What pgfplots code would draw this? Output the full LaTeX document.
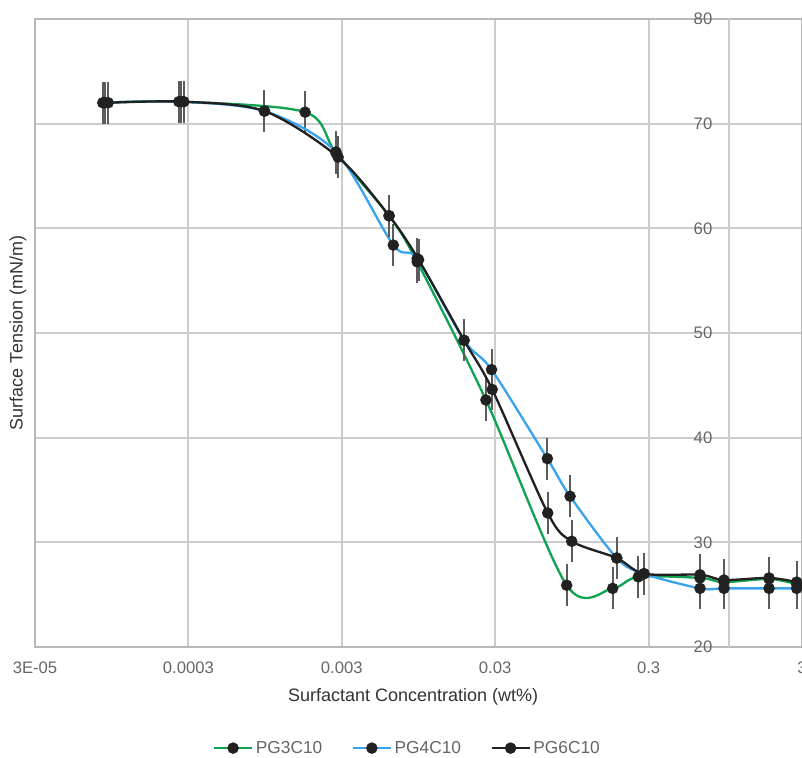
\documentclass[border=0pt]{standalone}
\usepackage{fontspec}
\setmainfont{Liberation Sans}
\usepackage{pgfplots}
\pgfplotsset{compat=1.18}
\usetikzlibrary{calc}
\definecolor{sgreen}{RGB}{16,163,82}
\definecolor{sblue}{RGB}{58,163,238}
\definecolor{sblack}{RGB}{33,33,33}
\definecolor{tickgray}{RGB}{102,102,102}
\definecolor{labgray}{RGB}{51,51,51}
\definecolor{gridgray}{RGB}{204,204,204}
\definecolor{errgray}{RGB}{92,92,92}

\pgfplotsset{
  series/.style={line width=1.75pt, smooth, tension=0.5, mark=*, mark size=3.4pt,
    mark options={fill=sblack, draw=sblack, solid},
    error bars/.cd, y dir=both, y fixed=2, error mark=none,
    error bar style={errgray, line width=1.5pt}},
}

\begin{document}
\begin{tikzpicture}
\begin{axis}[
  scale only axis,
  width=575.25pt, height=471pt,
  xmode=log,
  xmin=3e-5, xmax=3,
  ymin=20, ymax=80,
  xtick={3e-5,3e-4,3e-3,3e-2,0.3,3},
  xticklabels={3E-05,0.0003,0.003,0.03,0.3,3},
  extra x ticks={1},
  extra x tick labels={},
  extra x tick style={grid=major},
  ytick={20,30,...,80},
  yticklabel pos=right,
  /pgf/number format/assume math mode=true,
  grid=major,
  grid style={gridgray, line width=1.4pt},
  axis line style={gridgray!90!black, line width=1.4pt},
  major tick length=0pt, minor tick length=0pt,
  tick label style={font=\fontsize{12.5}{14}\selectfont, text=tickgray},
  xticklabel style={anchor=center, yshift=-15.75pt},
  yticklabel style={anchor=center, xshift=-74.25pt},
  xlabel={Surfactant Concentration (wt\%)},
  ylabel={Surface Tension (mN/m)},
  label style={font=\fontsize{13.5}{16}\selectfont, text=labgray},
  xlabel style={at={(axis description cs:0.493,-0.0796)}, anchor=center},
  ylabel style={at={(axis description cs:-0.0222,0.5)}, anchor=center},
  legend columns=3,
  legend style={at={(axis description cs:0.486,-0.161)}, anchor=center, draw=none,
    font=\fontsize{13}{15}\selectfont, text=tickgray,
    /tikz/every even column/.append style={column sep=20pt}},
  legend image code/.code={\draw[mark repeat=2,mark phase=2] plot coordinates {(0cm,0cm) (0.5cm,0cm) (1cm,0cm)};},
]
% PG3C10
\addplot[sgreen, series] coordinates {
  (8.6e-5,72.0) (2.7e-4,72.1) (1.73e-3,71.1) (2.75e-3,67.2) (6.1e-3,61.2)
  (9.3e-3,56.8) (0.0261,43.6) (0.0877,25.9) (0.175,25.6) (0.257,26.7)
  (0.649,26.6) (0.93,26.2) (1.83,26.5) (2.77,26.0)
};
\addlegendentry{PG3C10}
% PG4C10
\addplot[sblue, series] coordinates {
  (8.3e-5,72.0) (2.6e-4,72.1) (9.4e-4,71.2) (2.75e-3,67.3) (6.5e-3,58.4)
  (9.3e-3,57.1) (0.0188,49.3) (0.0284,46.5) (0.0656,38.0) (0.0923,34.4)
  (0.186,28.5) (0.28,27.0) (0.649,25.6) (0.93,25.6) (1.83,25.6) (2.77,25.6)
};
\addlegendentry{PG4C10}
% PG6C10
\addplot[sblack, series] coordinates {
  (9.0e-5,72.0) (2.8e-4,72.1) (9.4e-4,71.2) (2.84e-3,66.8) (6.1e-3,61.2)
  (9.5e-3,57.0) (0.0188,49.3) (0.0287,44.6) (0.066,32.8) (0.0946,30.1)
  (0.186,28.5) (0.28,27.0) (0.649,26.9) (0.93,26.4) (1.83,26.6) (2.77,26.2)
};
\addlegendentry{PG6C10}
\end{axis}
\pgfresetboundingbox
\path ($(current axis.south west)+(-26.25pt,-83.25pt)$) rectangle ($(current axis.north east)+(0pt,14.25pt)$);
\end{tikzpicture}
\end{document}
